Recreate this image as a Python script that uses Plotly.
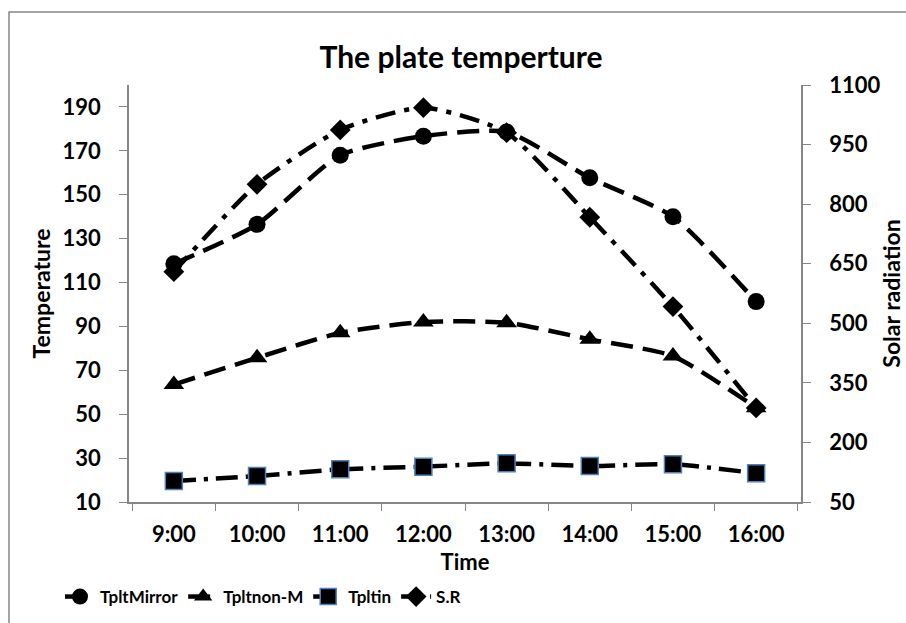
import plotly.graph_objects as go

times = ["9:00", "10:00", "11:00", "12:00", "13:00", "14:00", "15:00", "16:00"]
tplt_mirror = [118.5, 136.5, 168, 176.7, 178.6, 157.7, 140, 101.3]
tplt_nonm = [63.5, 75.7, 87.1, 92, 91.7, 84.1, 76.5, 53]
tplt_in = [19.6, 21.8, 24.9, 26.1, 27.6, 26.4, 27.2, 23.1]
solar_rad = [630, 850, 987, 1043, 980, 767, 542, 287]

left_ticks = [10, 30, 50, 70, 90, 110, 130, 150, 170, 190]
right_ticks = [50, 200, 350, 500, 650, 800, 950, 1100]

FONT = "Lato"
W, H = 906, 623
L, R, T, B = 129, 105, 85, 121
pw, ph = W - L - R, H - T - B

fig = go.Figure()
lw = 4.5
fig.add_trace(go.Scatter(x=times, y=tplt_mirror, name="TpltMirror", mode="lines+markers",
                         line=dict(color="black", width=lw, dash="22px,10px", shape="spline", smoothing=0.6),
                         marker=dict(symbol="circle", size=17, color="black")))
fig.add_trace(go.Scatter(x=times, y=tplt_nonm, name="Tpltnon-M", mode="lines+markers",
                         line=dict(color="black", width=lw, dash="22px,10px", shape="spline", smoothing=0.6),
                         marker=dict(symbol="triangle-up", size=18, color="black")))
fig.add_trace(go.Scatter(x=times, y=tplt_in, name="Tpltin", mode="lines+markers",
                         line=dict(color="black", width=lw, dash="22px,8px,4px,8px", shape="spline", smoothing=0.6),
                         marker=dict(symbol="square", size=17, color="black",
                                     line=dict(color="#4F81BD", width=1.5))))
fig.add_trace(go.Scatter(x=times, y=solar_rad, name="S.R", mode="lines+markers", yaxis="y2",
                         line=dict(color="black", width=lw, dash="20px,9px,5px,9px", shape="spline", smoothing=0.6),
                         marker=dict(symbol="diamond", size=16, color="black")))

tick_font = dict(family=FONT, size=22, color="black", weight="bold")
ytitle_font = dict(family=FONT, size=23, color="black", weight="bold")
xtitle_font = dict(family=FONT, size=22, color="black", weight="bold")
fig.update_layout(
    width=W, height=H,
    margin=dict(l=L, r=R, t=T, b=B, autoexpand=False),
    paper_bgcolor="white", plot_bgcolor="white",
    font=dict(family=FONT, color="black"),
    title=dict(text="<b>The plate temperture</b>", x=461 / W, xanchor="center",
               y=1 - 57 / H, yanchor="middle", font=dict(family=FONT, size=30, color="black")),
    xaxis=dict(type="category", showline=True, linecolor="#868686", linewidth=1.5,
               ticks="outside", tickson="boundaries", ticklen=7, tickcolor="#868686",
               tickfont=tick_font, showgrid=False, zeroline=False, ticklabelstandoff=12,
               title=dict(text="<b>Time</b>", font=xtitle_font, standoff=8)),
    yaxis=dict(range=[10, 200], tickvals=left_ticks, showline=True, linecolor="#868686", linewidth=1.5,
               ticks="outside", ticklen=8, tickcolor="#868686", tickfont=tick_font,
               showgrid=False, zeroline=False, ticklabelstandoff=14,
               title=dict(text="<b>Temperature</b>", font=ytitle_font, standoff=6)),
    yaxis2=dict(range=[50, 1100], tickvals=right_ticks, overlaying="y", side="right",
                showline=True, linecolor="#868686", linewidth=1.5,
                ticks="outside", ticklen=8, tickcolor="#868686", tickfont=tick_font,
                showgrid=False, zeroline=False, ticklabelstandoff=14,
                title=dict(text="<b>Solar radiation</b>", font=ytitle_font, standoff=4)),
    legend=dict(orientation="h", x=263 / W, xanchor="center", xref="container",
                y=1 - 597 / H, yanchor="middle", yref="container",
                font=dict(family=FONT, size=17, color="black", weight="bold"),
                bgcolor="rgba(0,0,0,0)"),
    showlegend=True,
)

# outer chart border
fig.add_shape(type="rect", xref="paper", yref="paper",
              x0=(9 - L) / pw, x1=(915 - L) / pw,
              y0=(H - B - 640) / ph, y1=(H - B - 12) / ph,
              line=dict(color="#868686", width=1.5), fillcolor="rgba(0,0,0,0)", layer="below")

fig.write_html("out.html", config={"displayModeBar": False},
               post_script="document.body.style.margin='0';document.body.style.overflow='hidden';")
